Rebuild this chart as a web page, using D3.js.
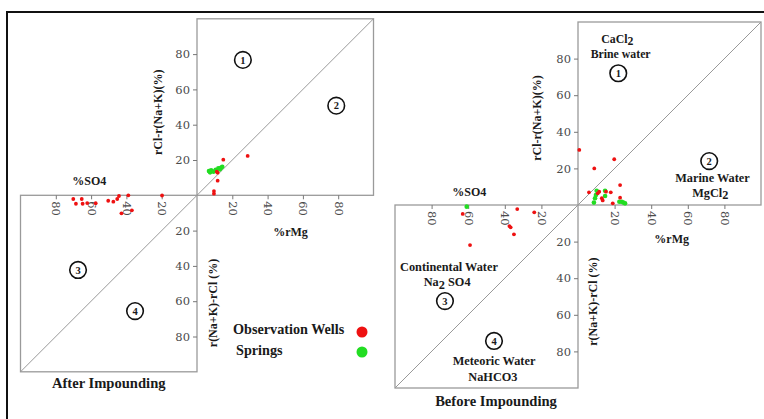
<!DOCTYPE html>
<html><head><meta charset="utf-8">
<script src="https://cdn.jsdelivr.net/npm/d3@7"></script>
<style>
body{margin:0;background:#fff;}
svg{display:block;}
.tk text{font-family:"DejaVu Serif",serif;font-size:11.5px;fill:#4a4a4a;}
.tk line{stroke:#777;stroke-width:1;}
.lbl{font-family:"Liberation Serif","Times New Roman",serif;font-weight:bold;fill:#1a1a1a;}
</style></head>
<body>
<svg id="c" width="764" height="419"></svg>
<script>
// ---- data ----
const tickVals = [20, 40, 60, 80];
// After impounding (left panel)
const afterWellsUpper = [[14.9,20.2],[28.7,22.3],[11.7,12.8],[11.7,8.3],[9.6,2.4],[9.6,0.9],[11.2,13.4]];
const afterSpringsUpper = [[6.8,13.8],[7.4,13],[8,14.1],[9.3,13.4],[10.6,14.5],[12.1,15.3],[13.6,15.6],[14.3,16.2],[13,14.7]];
const afterWellsLower = [[70.1,2.1],[68.6,4.8],[65.3,2.1],[64.8,4.8],[62.2,4.4],[57.4,4.5],[50.3,3.1],[47.4,3.6],[45.2,2.1],[44.2,0.4],[38.9,0],[42.8,10.2],[36.9,8.5],[19.8,0.1]];
const afterSpringsLower = [];
// Before impounding (right panel)
const beforeWellsUpper = [[0.7,30.1],[19.8,25],[8.9,20],[23,10.9],[6,6.9],[10.8,6.4],[11.6,7.3],[13,3.7],[13.5,2.5],[15.3,7.3],[17.9,6.9],[23,4],[19,0.9]];
const beforeSpringsUpper = [[10.2,7.8],[14.8,7.8],[9.8,5.5],[9.3,3.7],[8.7,1.3],[14.8,4.9],[22.6,1.8],[23.9,1.8],[24.8,1.3],[25.7,0.9]];
const beforeWellsLower = [[63,4.9],[33.2,2.2],[23.9,4],[37.5,11.5],[36.8,12.2],[35,16],[59,21.9]];
const beforeSpringsLower = [[60.8,0.9]];
const legendItems = ["Observation Wells", "Springs"];
const colors = {wells:"#ee1111", springs:"#22dd22"};

const svg = d3.select("#c");
// outer frame
svg.append("path").attr("d","M7,419 V12 H764").attr("fill","none").attr("stroke","#111").attr("stroke-width",2);

function panel(cfg){
  const {ox, oy, size} = cfg;
  const g = svg.append("g");
  const xP = d3.scaleLinear().domain([0,100]).range([ox, ox+size]);
  const xN = d3.scaleLinear().domain([0,100]).range([ox, ox-size]);
  const yP = d3.scaleLinear().domain([0,100]).range([oy, oy-size]);
  const yN = d3.scaleLinear().domain([0,100]).range([oy, oy+size]);
  // squares
  g.append("rect").attr("x",xP(0)).attr("y",yP(100)).attr("width",xP(100)-xP(0)).attr("height",yP(0)-yP(100))
    .attr("fill","none").attr("stroke","#9a9a9a").attr("stroke-width",1.3);
  g.append("rect").attr("x",xN(100)).attr("y",yN(0)).attr("width",xN(0)-xN(100)).attr("height",yN(100)-yN(0))
    .attr("fill","none").attr("stroke","#9a9a9a").attr("stroke-width",1.3);
  // diagonal
  g.append("line").attr("x1",xN(100)).attr("y1",yN(100)).attr("x2",xP(100)).attr("y2",yP(100))
    .attr("stroke","#999").attr("stroke-width",1);
  // axes
  const ay1 = g.append("g").attr("class","tk").attr("transform",`translate(${ox},0)`)
    .call(d3.axisLeft(yP).tickValues(tickVals).tickSize(4).tickPadding(3));
  const ay2 = g.append("g").attr("class","tk").attr("transform",`translate(${ox},0)`)
    .call(d3.axisLeft(yN).tickValues(tickVals).tickSize(4).tickPadding(3));
  const ax1 = g.append("g").attr("class","tk").attr("transform",`translate(0,${oy})`)
    .call(d3.axisBottom(xP).tickValues(tickVals).tickSize(4));
  const ax2 = g.append("g").attr("class","tk").attr("transform",`translate(0,${oy})`)
    .call(d3.axisBottom(xN).tickValues(tickVals).tickSize(4));
  [ay1,ay2,ax1,ax2].forEach(a=>a.select(".domain").remove());
  [ax1,ax2].forEach(a=>a.selectAll("text").attr("transform","rotate(90)").attr("x",6).attr("y",0)
    .attr("dy","0.35em").attr("text-anchor","start"));
  // axis titles
  g.append("text").attr("class","lbl").attr("font-size",12).attr("text-anchor","middle")
    .attr("dominant-baseline","central")
    .attr("transform",`translate(${ox+cfg.t1x},${yP(cfg.t1y)}) rotate(-90)`).text("rCl-r(Na+K)(%)");
  g.append("text").attr("class","lbl").attr("font-size",12).attr("text-anchor","middle")
    .attr("dominant-baseline","central")
    .attr("transform",`translate(${ox+cfg.t2x},${yN(cfg.t2y)}) rotate(-90)`).text("r(Na+K)-rCl (%)");
  g.append("text").attr("class","lbl").attr("font-size",12).attr("text-anchor","middle")
    .attr("x",xP(cfg.mgx)).attr("y",oy+cfg.mgdy).text("%rMg");
  g.append("text").attr("class","lbl").attr("font-size",12).attr("text-anchor","middle")
    .attr("x",xN(cfg.sox)).attr("y",oy+cfg.sody).text("%SO4");
  g.append("text").attr("class","lbl").attr("font-size",14.6).attr("text-anchor","middle")
    .attr("x",xN(cfg.titleX)).attr("y",yN(100)+cfg.titleDy).text(cfg.title);
  // zone circles
  const zones = [
    [xP(cfg.z[0][0]), yP(cfg.z[0][1]), "1"],
    [xP(cfg.z[1][0]), yP(cfg.z[1][1]), "2"],
    [xN(cfg.z[2][0]), yN(cfg.z[2][1]), "3"],
    [xN(cfg.z[3][0]), yN(cfg.z[3][1]), "4"]];
  zones.forEach(([cx,cy,t])=>{
    g.append("circle").attr("cx",cx).attr("cy",cy).attr("r",8.3).attr("fill","#fff").attr("stroke","#111").attr("stroke-width",1.6);
    g.append("text").attr("class","lbl").attr("font-size",10.5).attr("text-anchor","middle")
      .attr("x",cx).attr("y",cy+3.7).text(t);
  });
  // points
  function pts(data, xs, ys, col, r){
    g.selectAll(null).data(data).enter().append("circle")
      .attr("cx",d=>xs(d[0])).attr("cy",d=>ys(d[1])).attr("r",r).attr("fill",col);
  }
  pts(cfg.sU, xP, yP, colors.springs, 2.3);
  pts(cfg.sL, xN, yN, colors.springs, 2.3);
  pts(cfg.wU, xP, yP, colors.wells, 1.9);
  pts(cfg.wL, xN, yN, colors.wells, 1.9);
  return {g, xP, xN, yP, yN};
}

const L = panel({ox:197, oy:195.3, size:176.5, t1x:-39.5, t1y:47, t2x:16, t2y:61,
  mgx:53, mgdy:41, sox:61, sody:-10, title:"After Impounding", titleX:50, titleDy:16,
  z:[[26,76.7],[78.9,50.8],[67.4,42.3],[35.1,65.6]],
  wU:afterWellsUpper, sU:afterSpringsUpper, wL:afterWellsLower, sL:afterSpringsLower});
const R = panel({ox:578, oy:205, size:183, t1x:-41, t1y:47.5, t2x:15, t2y:52.8,
  mgx:51.2, mgdy:38, sox:59.4, sody:-9, title:"Before Impounding", titleX:44.8, titleDy:18,
  z:[[22,72],[71.7,24],[72.7,52.5],[45.9,74.3]],
  wU:beforeWellsUpper, sU:beforeSpringsUpper, wL:beforeWellsLower, sL:beforeSpringsLower});

// zone descriptions (right panel)
function sub(x, y, parts, fs){
  const t = svg.append("text").attr("class","lbl").attr("font-size",fs||12.3).attr("text-anchor","middle")
    .attr("x",x).attr("y",y);
  parts.forEach(p=>{
    const s = t.append("tspan").text(p[0]);
    if(p[1]) s.attr("dy",p[1]);
  });
}
sub(R.xP(21.5), R.yP(88.5), [["CaCl"],["2","2"]], 11.8);
sub(R.xP(23.3), R.yP(80.2), [["Brine water"]], 11.8);
sub(R.xP(73.5), R.yP(12.8), [["Marine Water"]]);
sub(R.xP(72.3), R.yP(4.6), [["MgCl"],["2","2"]]);
sub(R.xN(70.5), R.yN(35.8), [["Continental Water"]]);
sub(R.xN(71.5), R.yN(44.5), [["Na"],["2","2.5"],[" SO4","-2.5"]]);
sub(R.xN(45.9), R.yN(87.5), [["Meteoric Water"]]);
sub(R.xN(46.5), R.yN(96), [["NaHCO3"]]);

// legend
const leg = svg.append("g");
legendItems.forEach((name,i)=>{
  leg.append("text").attr("class","lbl").attr("font-size",14.2).attr("x",233+ i*3).attr("y",333.5+i*21.5).text(name);
  leg.append("circle").attr("cx",362).attr("cy",332+i*20).attr("r",5.5)
    .attr("fill", i===0?colors.wells:colors.springs);
});
</script>
</body></html>
